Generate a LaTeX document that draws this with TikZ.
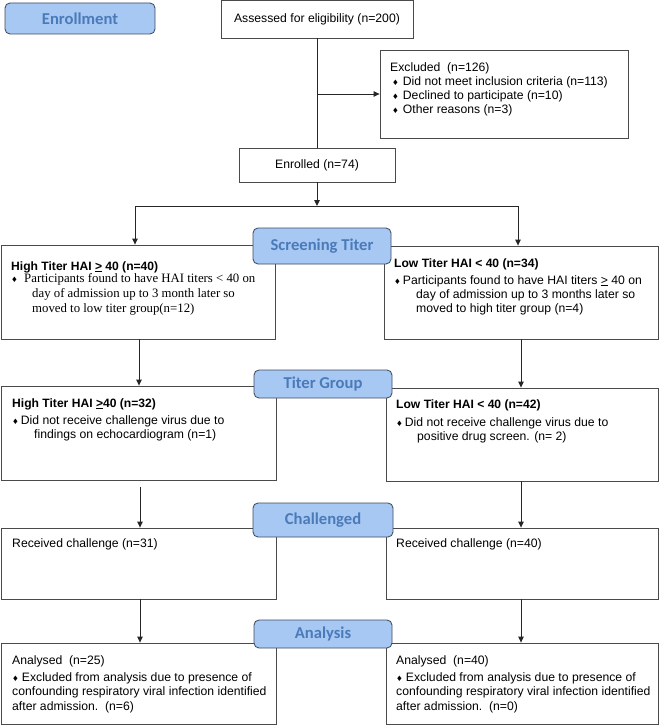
\documentclass[tikz,border=0pt]{standalone}
\usepackage{fontspec}
\setmainfont{Liberation Sans}
\newfontfamily\lblfont{Carlito}
\newfontfamily\serf{Liberation Serif}
\newfontfamily\symf{DejaVu Sans}
\usetikzlibrary{arrows.meta}
\definecolor{boxgray}{HTML}{4A4A4A}
\definecolor{lblborder}{HTML}{3E4A5E}
\definecolor{lblfill}{HTML}{A8C8F4}
\definecolor{lbltext}{HTML}{4A7BB8}
\newcommand{\mydiam}{{\symf\fontsize{7.5}{8}\selectfont ♦}}
\tikzset{
  box/.style={draw=boxgray, line width=0.85pt, inner sep=0pt, rectangle, font=\fontsize{12.2}{14}\selectfont},
  lbl/.style={draw=lblborder, fill=lblfill, rounded corners=5pt, line width=0.85pt,
    font=\lblfont\bfseries\fontsize{16.6}{18}\selectfont, text=lbltext, inner sep=0pt},
  txt/.style={anchor=base west, inner sep=0pt, font=\fontsize{12.2}{14}\selectfont},
  hdr/.style={txt, font=\bfseries\fontsize{12.1}{14}\selectfont},
  stxt/.style={anchor=base west, inner sep=0pt, font=\serf\fontsize{12.8}{14}\selectfont},
  arr/.style={-{Triangle[length=6pt,width=5.5pt]}, line width=0.85pt, draw=black!85},
  ln/.style={line width=0.85pt, draw=black!85},
}
\begin{document}
\begin{tikzpicture}[x=1pt,y=-1pt]
\useasboundingbox (0,0) rectangle (660,725);
% main boxes
\node[box, minimum width=192pt, minimum height=38pt] (assess) at (317,19) {Assessed for eligibility (n=200)};
\node[box, minimum width=248pt, minimum height=88pt] (excl) at (504,94) {};
\node[box, minimum width=156pt, minimum height=34pt] (enr) at (317,165) {Enrolled (n=74)};
\node[box, minimum width=274pt, minimum height=94pt] (L1) at (138,292) {};
\node[box, minimum width=274pt, minimum height=93pt] (R1) at (521,292.5) {};
\node[box, minimum width=275pt, minimum height=94pt] (L2) at (138.5,433) {};
\node[box, minimum width=272pt, minimum height=93pt] (R2) at (522,434.5) {};
\node[box, minimum width=275pt, minimum height=71pt] (L3) at (138.5,563.5) {};
\node[box, minimum width=272pt, minimum height=71pt] (R3) at (522,563.5) {};
\node[box, minimum width=275pt, minimum height=81pt] (L4) at (138.5,683.5) {};
\node[box, minimum width=272pt, minimum height=81pt] (R4) at (522,683.5) {};

% texts: excluded
\node[txt] (ex0) at (390,71) {Excluded\ \ (n=126)};
\node[txt] (ex1) at (392,85) {\mydiam\hspace{4pt}Did not meet inclusion criteria (n=113)};
\node[txt] (ex2) at (392,99) {\mydiam\hspace{4pt}Declined to participate (n=10)};
\node[txt] (ex3) at (392,113) {\mydiam\hspace{4pt}Other reasons (n=3)};
% L1
\node[hdr] (l1h) at (11,270) {High Titer HAI \underline{>} 40 (n=40)};
\node[txt] (l1b) at (11,282) {\mydiam};
\node[stxt] (l1a) at (24,282) {Participants found to have HAI titers < 40 on};
\node[stxt] (l1c) at (32,297) {day of admission up to 3 month later so};
\node[stxt] (l1d) at (32,312) {moved to low titer group(n=12)};
% R1
\node[hdr] (r1h) at (394,267) {Low Titer HAI < 40 (n=34)};
\node[txt] (r1a) at (394,284) {\mydiam\hspace{2pt}Participants found to have HAI titers \underline{>} 40 on};
\node[txt] (r1c) at (416,298) {day of admission up to 3 months later so};
\node[txt] (r1d) at (416,312) {moved to high titer group (n=4)};
% L2
\node[hdr] (l2h) at (12,407) {High Titer HAI \underline{>}40 (n=32)};
\node[txt] (l2a) at (12,424) {\mydiam\hspace{2pt}Did not receive challenge virus due to};
\node[txt] (l2c) at (34,438) {findings on echocardiogram (n=1)};
% R2
\node[hdr] (r2h) at (396,408) {Low Titer HAI < 40 (n=42)};
\node[txt] (r2a) at (396,426) {\mydiam\hspace{2pt}Did not receive challenge virus due to};
\node[txt] (r2c) at (417,440) {positive drug screen. (n= 2)};
% L3 R3
\node[txt] (l3a) at (12,547) {Received challenge (n=31)};
\node[txt] (r3a) at (396,547) {Received challenge (n=40)};
% L4
\node[txt] (l4h) at (12,664) {Analysed\ \ (n=25)};
\node[txt] (l4a) at (12,681) {\mydiam\hspace{3pt}Excluded from analysis due to presence of};
\node[txt] (l4b) at (12,695) {confounding respiratory viral infection identified};
\node[txt] (l4c) at (12,710) {after admission.\ \ (n=6)};
% R4
\node[txt] (r4h) at (396,664) {Analysed\ \ (n=40)};
\node[txt] (r4a) at (396,681) {\mydiam\hspace{3pt}Excluded from analysis due to presence of};
\node[txt] (r4b) at (396,695) {confounding respiratory viral infection identified};
\node[txt] (r4c) at (396,710) {after admission.\ \ (n=0)};

% connectors
\draw[ln] (assess.south) -- (enr.north);
\coordinate (exs) at (317,94);
\draw[arr] (exs) -- (excl.west);
\coordinate (sl) at (135,206);
\coordinate (sr) at (518,206);
\draw[arr] (enr.south) -- (enr.south |- sl);
\draw[ln] (sl) -- (sr);
\draw[arr] (sl) -- (sl |- L1.north);
\draw[arr] (sr) -- (sr |- R1.north);
\draw[arr] ([xshift=1pt]L1.south) -- ([xshift=1pt]L1.south |- L2.north);
\draw[arr] (R1.south) -- (R1.south |- R2.north);
\draw[arr, shorten <=7pt] ([xshift=1.5pt]L2.south) -- ([xshift=1.5pt]L2.south |- L3.north);
\draw[arr] ([xshift=-1pt]R2.south) -- ([xshift=-1pt]R2.south |- R3.north);
\draw[arr] ([xshift=1.5pt]L3.south) -- ([xshift=1.5pt]L3.south |- L4.north);
\draw[arr] ([xshift=-1pt]R3.south) -- ([xshift=-1pt]R3.south |- R4.north);

% stage labels
\node[lbl, minimum width=150pt, minimum height=31pt] (s0) at (80,18.5) {Enrollment};
\node[lbl, minimum width=138pt, minimum height=36pt] (s1) at (322,246) {Screening Titer};
\node[lbl, minimum width=138pt, minimum height=28pt] (s2) at (323,384) {Titer Group};
\node[lbl, minimum width=140pt, minimum height=34pt] (s3) at (323,520) {Challenged};
\node[lbl, minimum width=138pt, minimum height=28pt] (s4) at (323,634) {Analysis};
\end{tikzpicture}
\end{document}
